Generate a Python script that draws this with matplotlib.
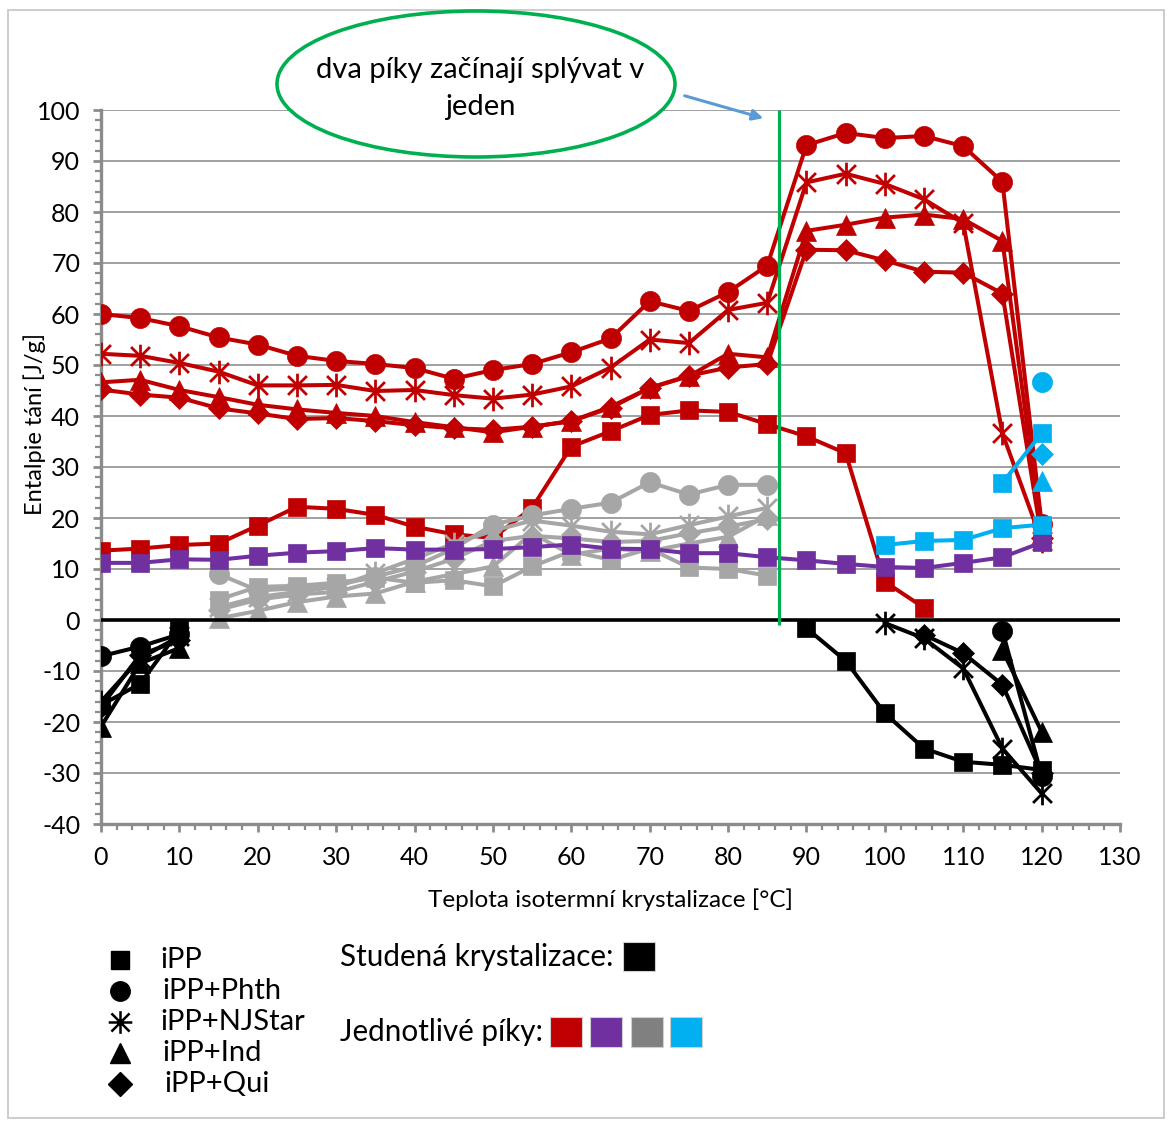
import numpy as np
import matplotlib
matplotlib.use("Agg")
import matplotlib.pyplot as plt
from matplotlib.path import Path
from matplotlib.patches import Ellipse, Rectangle, FancyArrowPatch
from matplotlib.ticker import MultipleLocator

plt.rcParams['font.family'] = ['Lato', 'DejaVu Sans']
plt.rcParams['axes.unicode_minus'] = False

# ---- data -------------------------------------------------------------
# temperatures of isothermal crystallization [°C]
t_all = [0, 5, 10, 15, 20, 25, 30, 35, 40, 45, 50, 55, 60, 65, 70, 75, 80,
         85, 90, 95, 100, 105, 110, 115, 120]
t_ipp_red = t_all[:22]                      # 0 ... 105
t_gray = t_all[3:18]                        # 15 ... 85
t_cold_low = [0, 5, 10]

# first (red) melting peak
red_ipp = [13.6, 14.0, 14.7, 15.0, 18.5, 22.2, 21.8, 20.6, 18.3, 16.8, 16.1,
           22.0, 34.0, 37.0, 40.2, 41.1, 40.8, 38.4, 36.0, 32.7, 7.5, 2.4]
red_phth = [60.0, 59.2, 57.6, 55.4, 54.0, 51.8, 50.8, 50.2, 49.4, 47.3, 49.0,
            50.2, 52.5, 55.2, 62.5, 60.6, 64.3, 69.5, 93.1, 95.5, 94.5, 94.9,
            92.9, 85.9, 18.9]
red_njstar = [52.2, 51.8, 50.4, 48.7, 46.0, 46.0, 46.1, 44.9, 45.1, 44.1, 43.4,
              44.2, 45.8, 49.5, 55.0, 54.3, 60.8, 62.2, 85.8, 87.5, 85.5, 82.5,
              77.8, 36.6, 15.5]
red_ind = [46.6, 47.1, 45.1, 43.7, 42.2, 41.3, 40.6, 40.0, 38.8, 37.8, 36.8,
           37.9, 39.0, 41.8, 45.5, 47.8, 52.2, 51.5, 76.3, 77.5, 78.9, 79.5,
           78.6, 74.3, 17.0]
red_qui = [45.2, 44.2, 43.6, 41.5, 40.5, 39.4, 39.6, 39.0, 38.2, 37.6, 37.3,
           37.9, 39.0, 41.6, 45.5, 47.9, 49.5, 50.2, 72.6, 72.5, 70.5, 68.3,
           68.1, 64.0, 16.0]

# second (purple) melting peak
purple_ipp = [11.2, 11.2, 11.9, 11.8, 12.6, 13.2, 13.5, 14.1, 13.8, 13.8, 13.9,
              14.3, 14.8, 14.0, 13.9, 13.1, 13.1, 12.3, 11.7, 11.0, 10.4, 10.2,
              11.2, 12.3, 15.2]

# third (gray) melting peak
gray_ipp = [4.0, 6.5, 6.7, 7.3, 8.3, 7.3, 7.8, 6.6, 10.5, 13.5, 11.8, 14.0,
            10.3, 10.0, 8.7]
gray_phth = [9.0, 5.8, 6.2, 6.8, 8.5, 10.5, 14.0, 18.7, 20.5, 21.8, 23.0,
             27.0, 24.6, 26.5, 26.5]
gray_njstar = [2.5, 4.5, 5.5, 6.5, 9.2, 12.0, 15.0, 17.5, 19.5, 18.5, 17.3,
               16.8, 18.6, 20.3, 22.0]
gray_ind = [0.3, 1.8, 3.5, 4.6, 5.2, 7.5, 9.0, 10.5, 17.0, 12.8, 14.0, 13.5,
            15.0, 16.3, 20.5]
gray_qui = [2.0, 4.0, 5.0, 5.5, 7.5, 9.5, 12.0, 15.5, 16.5, 16.0, 15.3, 15.5,
            17.0, 18.3, 19.8]

# fourth (blue) melting peak
t_blue_a = [100, 105, 110, 115, 120]
blue_a = [14.7, 15.5, 15.7, 18.0, 18.7]
t_blue_b = [115, 120]
blue_b = [26.9, 36.6]
t_blue_single = [120]
blue_phth = [46.6]
blue_qui = [32.5]
blue_ind = [27.2]

# cold crystallization (black, negative enthalpy)
cold_ipp_low = [-16.7, -12.5, -2.0]
t_cold_ipp_high = [90, 95, 100, 105, 110, 115, 120]
cold_ipp_high = [-1.6, -8.0, -18.3, -25.2, -27.8, -28.4, -29.4]
cold_phth_low = [-7.1, -5.2, -2.8]
t_cold_phth_high = [115, 120]
cold_phth_high = [-2.1, -30.5]
cold_njstar_low = [-16.0, -7.5, -3.2]
t_cold_njstar_high = [100, 105, 110, 115, 120]
cold_njstar_high = [-0.6, -3.6, -9.5, -25.2, -34.0]
cold_ind_low = [-20.9, -8.5, -5.5]
t_cold_ind_high = [115, 120]
cold_ind_high = [-5.9, -21.9]
cold_qui_low = [-17.0, -6.8, -4.0]
t_cold_qui_high = [105, 110, 115, 120]
cold_qui_high = [-2.9, -6.5, -12.7, -30.0]

merge_temp = 86.5   # where the two peaks start to merge

legend_names = ['iPP', 'iPP+Phth', 'iPP+NJStar', 'iPP+Ind', 'iPP+Qui']

# ---- styling ------------------------------------------------------------
RED = '#C00000'
PURPLE = '#7030A0'
GRAY = '#A6A6A6'
BLUE = '#00B0F0'
GREEN = '#00B050'
AXIS_GRAY = '#8C8C8C'

# asterisk-like marker: X with a vertical stroke
STAR = Path([(-1, -1), (1, 1), (-1, 1), (1, -1), (0, -1.25), (0, 1.25)],
            [Path.MOVETO, Path.LINETO] * 3)
STAR_LEG = Path([(-1, -1), (1, 1), (-1, 1), (1, -1), (-1.3, 0), (1.3, 0),
                 (0, -1.25), (0, 1.25)],
                [Path.MOVETO, Path.LINETO] * 4)

MARK = {
    'ipp': dict(marker='s', ms=13),
    'phth': dict(marker='o', ms=14.5),
    'njstar': dict(marker=STAR, ms=17, mew=2.0),
    'ind': dict(marker='^', ms=14),
    'qui': dict(marker='D', ms=11.5),
}


def draw(ax, x, y, color, kind, z, lw=2.9, line=True):
    m = dict(MARK[kind])
    if kind == 'njstar':
        ax.plot(x, y, color=color, lw=lw if line else 0, zorder=z,
                marker=m['marker'], ms=m['ms'], mew=m['mew'],
                mec=color, mfc='none')
    else:
        ax.plot(x, y, color=color, lw=lw if line else 0, zorder=z,
                marker=m['marker'], ms=m['ms'], mec=color, mfc=color, mew=0.5)


W, H = 1170, 1122
fig = plt.figure(figsize=(W / 100, H / 100), dpi=100)
ax = fig.add_axes([101 / W, 1 - 824 / H, (1120 - 101) / W, (824 - 110) / H])

# red peak
draw(ax, t_ipp_red, red_ipp, RED, 'ipp', 3)
draw(ax, t_all, red_qui, RED, 'qui', 3)
draw(ax, t_all, red_ind, RED, 'ind', 3)
draw(ax, t_all, red_njstar, RED, 'njstar', 3)
draw(ax, t_all, red_phth, RED, 'phth', 3)

# gray peak
draw(ax, t_gray, gray_ipp, GRAY, 'ipp', 4)
draw(ax, t_gray, gray_ind, GRAY, 'ind', 4)
draw(ax, t_gray, gray_qui, GRAY, 'qui', 4)
draw(ax, t_gray, gray_njstar, GRAY, 'njstar', 4)
draw(ax, t_gray, gray_phth, GRAY, 'phth', 4)

# purple peak
draw(ax, t_all, purple_ipp, PURPLE, 'ipp', 5)

# blue peak
draw(ax, t_blue_a, blue_a, BLUE, 'ipp', 6)
draw(ax, t_blue_b, blue_b, BLUE, 'ipp', 6)
draw(ax, t_blue_single, blue_phth, BLUE, 'phth', 6, line=False)
draw(ax, t_blue_single, blue_qui, BLUE, 'qui', 6, line=False)
draw(ax, t_blue_single, blue_ind, BLUE, 'ind', 6, line=False)

# zero line
ax.axhline(0, color='black', lw=2.6, zorder=6)

# cold crystallization
K = 'black'
draw(ax, t_cold_low, cold_ipp_low, K, 'ipp', 7)
draw(ax, t_cold_ipp_high, cold_ipp_high, K, 'ipp', 7)
draw(ax, t_cold_low, cold_phth_low, K, 'phth', 7)
draw(ax, t_cold_phth_high, cold_phth_high, K, 'phth', 7)
draw(ax, t_cold_low, cold_njstar_low, K, 'njstar', 7)
draw(ax, t_cold_njstar_high, cold_njstar_high, K, 'njstar', 7)
draw(ax, t_cold_low, cold_ind_low, K, 'ind', 7)
draw(ax, t_cold_ind_high, cold_ind_high, K, 'ind', 7)
draw(ax, t_cold_low, cold_qui_low, K, 'qui', 7)
draw(ax, t_cold_qui_high, cold_qui_high, K, 'qui', 7)

# vertical marker where the peaks merge
ax.vlines(merge_temp, -1, 100, color=GREEN, lw=2.3, zorder=8)

# axes
ax.set_xlim(0, 130)
ax.set_ylim(-40, 100)
ax.xaxis.set_major_locator(MultipleLocator(10))
ax.xaxis.set_minor_locator(MultipleLocator(2))
ax.yaxis.set_major_locator(MultipleLocator(10))
ax.yaxis.set_minor_locator(MultipleLocator(2))
ax.yaxis.grid(True, which='major', color='#A0A0A0', lw=1.4, zorder=0)
ax.set_axisbelow(True)
for s in ('top', 'right'):
    ax.spines[s].set_visible(False)
for s in ('left', 'bottom'):
    ax.spines[s].set_color(AXIS_GRAY)
    ax.spines[s].set_linewidth(2.4)
ax.tick_params(which='major', direction='out', length=6, width=2,
               color=AXIS_GRAY, labelsize=18)
ax.tick_params(axis='x', which='major', pad=10)
ax.tick_params(axis='y', which='major', pad=9)
ax.tick_params(which='minor', direction='out', length=4, width=1.6,
               color=AXIS_GRAY)
ax.set_xlabel('Teplota isotermní krystalizace [°C]', fontsize=17.5, va='center')
ax.xaxis.set_label_coords((610 - 101) / 1019, (824 - 900) / 714)
ax.set_ylabel('Entalpie tání [J/g]', fontsize=17, va='center')
ax.yaxis.set_label_coords((35 - 101) / 1019, (824 - 424) / 714)

# ---- overlay: annotation, legend, frame -------------------------------
ov = fig.add_axes([0, 0, 1, 1])
ov.set_xlim(0, W)
ov.set_ylim(H, 0)
ov.axis('off')
ov.patch.set_alpha(0)

ov.add_patch(Rectangle((8, 10), W - 14, H - 14, fill=False,
                       edgecolor='#C8C8C8', lw=1.3))
ov.add_patch(Ellipse((476, 84), 398, 146, facecolor='white',
                     edgecolor=GREEN, lw=2.6, zorder=5))
ov.text(480, 70, 'dva píky začínají splývat v', ha='center', va='center',
        fontsize=21, zorder=6)
ov.text(480, 107, 'jeden', ha='center', va='center', fontsize=21, zorder=6)
ov.add_patch(FancyArrowPatch((682, 95), (766, 119), arrowstyle='-|>',
                             mutation_scale=16, color='#5B9BD5', lw=2.2,
                             zorder=6))

leg_markers = [('s', 13), ('o', 14), (STAR_LEG, 17), ('^', 15), ('D', 12)]
leg_text_x = [160, 162, 160, 162, 164]
for i, (name, (mk, ms)) in enumerate(zip(legend_names, leg_markers)):
    y = 960 + i * 31
    if mk is STAR_LEG:
        ov.plot([120], [y], marker=mk, ms=ms, mew=1.8, mec='black',
                mfc='none', lw=0)
    else:
        ov.plot([120], [y], marker=mk, ms=ms, mec='black', mfc='black', lw=0)
    ov.text(leg_text_x[i], y, name, ha='left', va='center', fontsize=21)

ov.text(340, 957, 'Studená krystalizace:', ha='left', va='center',
        fontsize=21.3)
ov.add_patch(Rectangle((623, 942), 32, 29, facecolor='black',
                       edgecolor='#D0D0D0', lw=0.8))
ov.text(340, 1032, 'Jednotlivé píky:', ha='left', va='center', fontsize=21.3)
for x0, c in zip([550, 590, 631, 670], [RED, PURPLE, '#808080', BLUE]):
    ov.add_patch(Rectangle((x0, 1017), 32, 30, facecolor=c,
                           edgecolor='#D0D0D0', lw=0.8))

fig.savefig('out.png', dpi=100)
